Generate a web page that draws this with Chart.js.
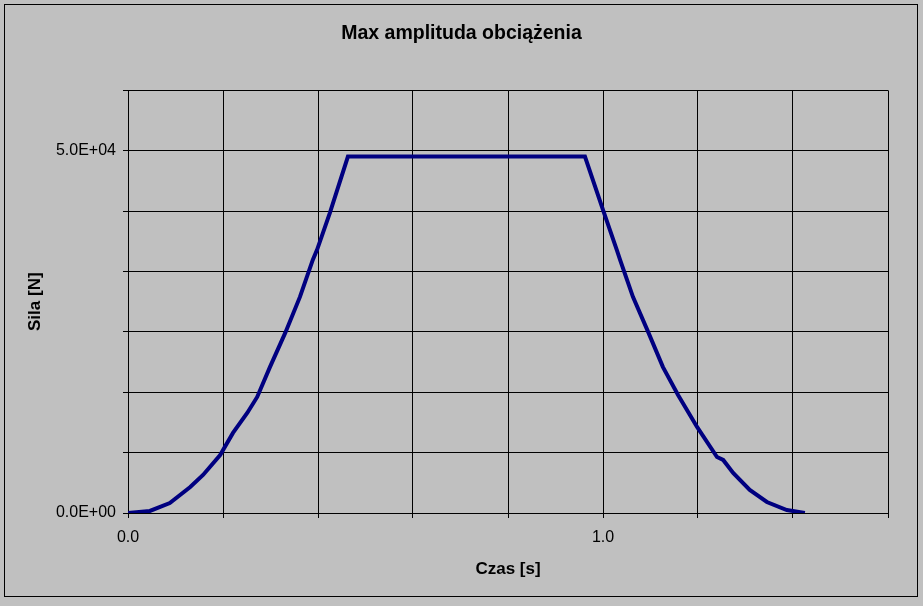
<!DOCTYPE html>
<html>
<head>
<meta charset="utf-8">
<script src="https://cdn.jsdelivr.net/npm/chart.js@4.4.1/dist/chart.umd.min.js"></script>
<style>
  html, body { margin: 0; padding: 0; background: #c0c0c0; }
  canvas { display: block; }
</style>
</head>
<body>
<canvas id="amplitudeChart" width="923" height="606"></canvas>
<script>
// czas [s] i siła [N]
const timeValues = [0, 0.046, 0.088, 0.131, 0.158, 0.194, 0.221, 0.251, 0.272, 0.299, 0.331, 0.362, 0.389, 0.398, 0.425, 0.463,
    0.962, 1.0, 1.029, 1.036, 1.063, 1.095, 1.126, 1.158, 1.198, 1.240, 1.253, 1.274, 1.309, 1.345, 1.387, 1.425];
const forceValues = [0, 280, 1380, 3590, 5250, 8010, 11050, 13810, 16020, 20170, 24860, 29830, 34940, 36330, 41440, 49200,
    49200, 41850, 36330, 34940, 29830, 25000, 20170, 16300, 11880, 7730, 7320, 5520, 3180, 1520, 410, 0];

const xTickValues = [0, 0.2, 0.4, 0.6, 0.8, 1.0, 1.2, 1.4, 1.6];
const xTickLabels = ['0.0', '', '', '', '', '1.0', '', '', ''];
const yTickValues = [0, 50000 / 6, 100000 / 6, 25000, 200000 / 6, 250000 / 6, 50000, 350000 / 6];
const yTickLabels = ['0.0E+00', '', '', '', '', '', '5.0E+04', ''];

const points = timeValues.map((t, i) => ({ x: t, y: forceValues[i] }));

const backgroundPlugin = {
    id: 'excelBackground',
    beforeDraw(chart) {
        const ctx = chart.ctx;
        ctx.save();
        ctx.fillStyle = '#c0c0c0';
        ctx.fillRect(0, 0, chart.width, chart.height);
        ctx.strokeStyle = '#000000';
        ctx.lineWidth = 1;
        ctx.strokeRect(4.5, 4.5, chart.width - 10, chart.height - 14);
        ctx.restore();
    }
};

const amplitudeCtx = document.getElementById('amplitudeChart');

new Chart(amplitudeCtx, {
    type: 'scatter',
    data: {
        datasets: [{
            label: 'Siła',
            data: points,
            borderColor: '#000080',
            backgroundColor: '#000080',
            borderWidth: 4,
            pointRadius: 0,
            showLine: true,
            tension: 0,
            fill: false
        }]
    },
    options: {
        responsive: false,
        animation: false,
        layout: {
            padding: 0
        },
        plugins: {
            legend: { display: false },
            tooltip: { enabled: false },
            title: {
                display: true,
                text: 'Max amplituda obciążenia',
                color: '#000000',
                font: { family: 'Liberation Sans, Arial', size: 19.5, weight: 'bold' },
                padding: { top: 22, bottom: 45 }
            }
        },
        scales: {
            x: {
                type: 'linear',
                min: 0,
                max: 1.6,
                afterBuildTicks: (scale) => {
                    scale.ticks = xTickValues.map(v => ({ value: v }));
                },
                afterFit: (scale) => {
                    scale.height = 93;
                },
                ticks: {
                    autoSkip: false,
                    maxRotation: 0,
                    padding: 10,
                    color: '#000000',
                    font: { family: 'Liberation Sans, Arial', size: 16 },
                    callback: (value, index) => xTickLabels[index]
                },
                grid: {
                    color: '#000000',
                    lineWidth: 1,
                    tickLength: 5,
                    drawTicks: true
                },
                border: { color: '#000000', width: 1 },
                title: {
                    display: true,
                    text: 'Czas [s]',
                    color: '#000000',
                    font: { family: 'Liberation Sans, Arial', size: 17, weight: 'bold' },
                    padding: { top: 0, bottom: 26 }
                }
            },
            y: {
                type: 'linear',
                min: 0,
                max: 350000 / 6,
                afterBuildTicks: (scale) => {
                    scale.ticks = yTickValues.map(v => ({ value: v }));
                },
                afterFit: (scale) => {
                    scale.width = 128;
                },
                ticks: {
                    autoSkip: false,
                    padding: 7,
                    color: '#000000',
                    font: { family: 'Liberation Sans, Arial', size: 16 },
                    callback: (value, index) => yTickLabels[index]
                },
                grid: {
                    color: '#000000',
                    lineWidth: 1,
                    tickLength: 5,
                    drawTicks: true
                },
                border: { color: '#000000', width: 1 },
                title: {
                    display: true,
                    text: 'Sila [N]',
                    color: '#000000',
                    font: { family: 'Liberation Sans, Arial', size: 17, weight: 'bold' },
                    padding: { top: 25, bottom: 0 }
                }
            },
            // pusty margines po prawej, żeby tytuł był na środku całego obrazka
            rightMargin: {
                type: 'linear',
                position: 'right',
                min: 0,
                max: 350000 / 6,
                afterFit: (scale) => {
                    scale.width = 35;
                },
                ticks: { display: false },
                grid: { display: false, drawTicks: false },
                border: { display: false }
            }
        }
    },
    plugins: [backgroundPlugin]
});
</script>
</body>
</html>
